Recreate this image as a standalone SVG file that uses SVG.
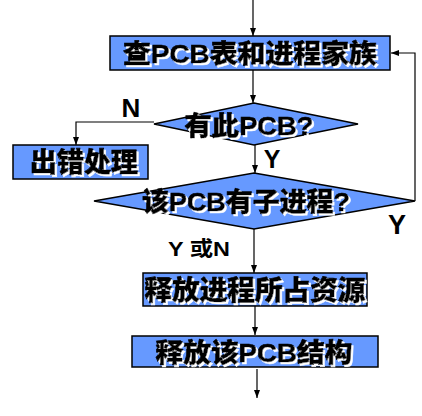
<svg xmlns="http://www.w3.org/2000/svg" width="422" height="416" viewBox="0 0 422 416">
<defs>
<marker id="ah" viewBox="0 0 8 8" refX="8" refY="4" markerWidth="8" markerHeight="8" markerUnits="userSpaceOnUse" orient="auto">
<path d="M0,1 L8,4 L0,7 Z" fill="#000"/>
</marker>
<filter id="sh" x="-5%" y="-10%" width="110%" height="130%">
<feOffset in="SourceAlpha" dx="1.5" dy="1.5" result="o"/>
<feFlood flood-color="#ffffff"/>
<feComposite in2="o" operator="in" result="w"/>
<feMerge><feMergeNode in="w"/><feMergeNode in="SourceGraphic"/></feMerge>
</filter>
</defs>
<style>
.n{fill:#6699ff;stroke:#000;stroke-width:1.5}
.t{font-family:"Liberation Sans","Noto Sans CJK SC",sans-serif;font-weight:900;fill:#000;stroke:#000;stroke-width:0.6;text-anchor:middle;dominant-baseline:central;filter:url(#sh)}
.l{font-family:"Liberation Sans","Noto Sans CJK SC",sans-serif;font-weight:bold;fill:#000;text-anchor:middle;dominant-baseline:central}
.c{fill:none;stroke:#000;stroke-width:1.2}
</style>
<g id="connectors">
<path class="c" d="M253,0 V36" marker-end="url(#ah)"/>
<path class="c" d="M253,70 V103" marker-end="url(#ah)"/>
<path class="c" d="M154,122 H76 V145" marker-end="url(#ah)"/>
<path class="c" d="M255,145 V173" marker-end="url(#ah)"/>
<path class="c" d="M415,201 V53 H391" marker-end="url(#ah)"/>
<path class="c" d="M254,229 V273" marker-end="url(#ah)"/>
<path class="c" d="M255,306 V335" marker-end="url(#ah)"/>
<path class="c" d="M257,369 V398" marker-end="url(#ah)"/>
<text class="l" x="131" y="108" font-size="26">N</text>
<text class="l" x="272" y="159" font-size="25">Y</text>
<text class="l" x="397" y="225" font-size="27">Y</text>
<text class="l" x="199" y="249" font-size="20" textLength="62" lengthAdjust="spacingAndGlyphs">Y 或N</text>
</g>
<g id="n1">
<rect class="n" x="110" y="36" width="280" height="34"/>
<text class="t" x="250" y="54" font-size="26" textLength="254" lengthAdjust="spacingAndGlyphs">查PCB表和进程家族</text>
</g>
<g id="n2">
<polygon class="n" points="254,103 358,124 254,145 154,124"/>
<text class="t" x="249" y="126" font-size="26" textLength="129" lengthAdjust="spacingAndGlyphs">有此PCB?</text>
</g>
<g id="n3">
<rect class="n" x="13" y="145" width="135" height="34"/>
<text class="t" x="84" y="163" font-size="27">出错处理</text>
</g>
<g id="n4">
<polygon class="n" points="254,173 415,201 254,229 94,201"/>
<text class="t" x="246" y="202" font-size="26" textLength="208" lengthAdjust="spacingAndGlyphs">该PCB有子进程?</text>
</g>
<g id="n5">
<rect class="n" x="143" y="273" width="224" height="33"/>
<text class="t" x="255" y="291" font-size="27" textLength="221" lengthAdjust="spacingAndGlyphs">释放进程所占资源</text>
</g>
<g id="n6">
<rect class="n" x="132" y="336" width="246" height="31"/>
<text class="t" x="254" y="353" font-size="26" textLength="197" lengthAdjust="spacingAndGlyphs">释放该PCB结构</text>
</g>
</svg>
